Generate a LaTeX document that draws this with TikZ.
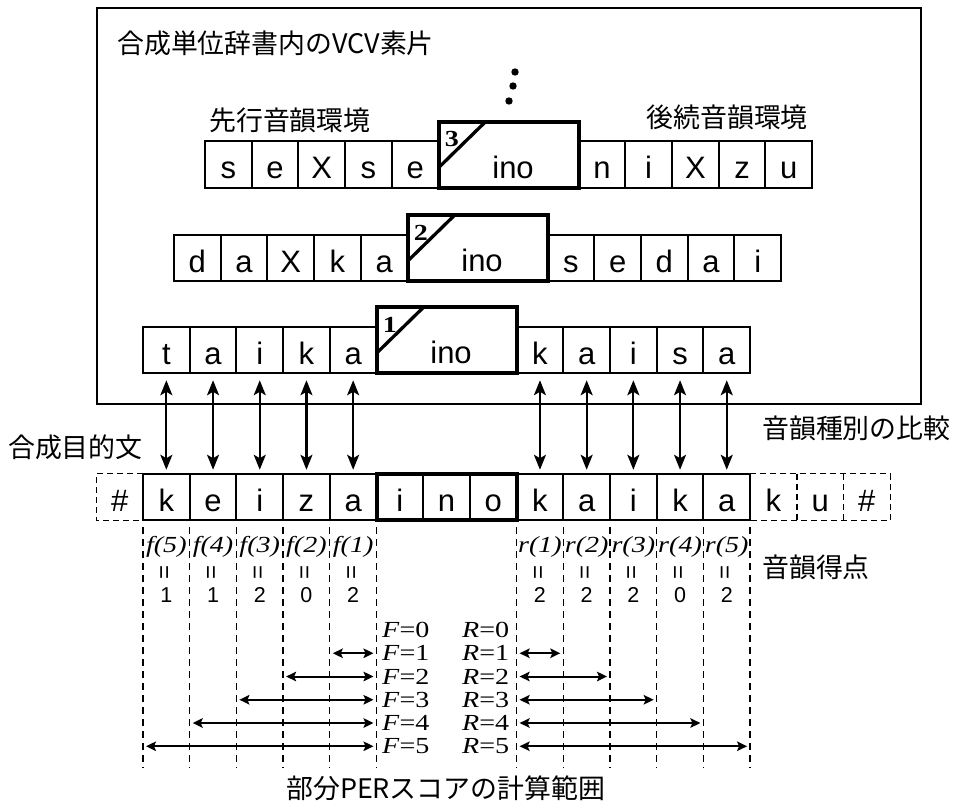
\documentclass[tikz,border=0pt]{standalone}
\usepackage{fontspec}
\setmainfont{Liberation Sans}
\newfontfamily\cjk{Noto Sans CJK JP}
\newfontfamily\serifst[FakeStretch=1.22]{Liberation Serif}
\usetikzlibrary{arrows.meta,fit}
\begin{document}
\begin{tikzpicture}[x=1pt,y=-1pt,
  cell/.style={draw, line width=2.1pt, minimum width=46.7pt, minimum height=46.5pt, inner sep=0pt, outer sep=0pt, text height=28pt, text depth=0pt, font=\fontsize{31}{36}\selectfont},
  dcell/.style={cell, draw=none},
  dline/.style={line width=1.4pt, dash pattern=on 6pt off 4pt},
  inobox/.style={draw, line width=4pt, minimum width=140.1pt, minimum height=66pt, inner sep=0pt, outer sep=0pt},
  inotext/.style={anchor=base, inner sep=0pt, font=\fontsize{31}{36}\selectfont},
  numlab/.style={inner sep=0pt, font=\serifst\bfseries\fontsize{23}{25}\selectfont},
  diag/.style={line width=3.3pt},
  cjklab/.style={inner sep=0pt, font=\cjk\fontsize{26.9}{30}\selectfont},
  varrow/.style={{Stealth[length=15pt,width=12pt,inset=3.5pt]}-{Stealth[length=15pt,width=12pt,inset=3.5pt]}, line width=2.2pt, shorten <=7pt, shorten >=4pt},
  harrow/.style={{Stealth[length=10pt,width=9.5pt,inset=2pt]}-{Stealth[length=10pt,width=9.5pt,inset=2pt]}, line width=2pt, shorten <=3pt, shorten >=3pt},
  guide/.style={line width=1.3pt, dash pattern=on 7pt off 5pt, shorten <=7pt},
  scorelab/.style={inner sep=0pt, font=\serifst\itshape\fontsize{23}{26}\selectfont},
  eqlab/.style={inner sep=0pt, rotate=90, font=\fontsize{24}{26}\selectfont},
  vallab/.style={inner sep=0pt, font=\fontsize{21.5}{24}\selectfont},
  flab/.style={anchor=west, inner sep=0pt, text height=15.2pt, text depth=0pt, font=\serifst\fontsize{23}{26}\selectfont},
]
\useasboundingbox (0,0) rectangle (955,806);

% dictionary frame
\node[draw, line width=2.6pt, minimum width=824pt, minimum height=396pt, inner sep=0pt] (dict) at (509,206) {};
\node[cjklab, anchor=west] (title) at (117,43) {合成単位辞書内のVCV素片};
\node[cjklab, anchor=west] (prev) at (209,120) {先行音韻環境};
\node[cjklab, anchor=east] (next) at (808,117) {後続音韻環境};

% dots
\fill (515,72) circle (3.7pt);
\fill (513,86) circle (3.7pt);
\fill (509,101) circle (3.7pt);

% VCV rows
\foreach \r/\L/\ys/\lw/\rw in {3/205/164.5/{s,e,X,s,e}/{n,i,X,z,u}, 2/174/258/{d,a,X,k,a}/{s,e,d,a,i}, 1/143/350/{t,a,i,k,a}/{k,a,i,s,a}}{
  \foreach \t [count=\i] in \lw {\node[cell] (r\r-\i) at ({\L+(\i-0.5)*46.7},\ys) {\t};}
  \foreach \t [count=\i from 6] in \rw {\node[cell] (r\r-\i) at ({\L+(\i+2.5)*46.7},\ys) {\t};}
  \node[inobox] (ino\r) at ({\L+6.5*46.7},{\ys-9.75}) {};
  \draw[diag] ([yshift=-46pt]ino\r.north west) -- ([xshift=47pt]ino\r.north west);
  \node[inotext] (inot\r) at ([xshift=4.5pt,yshift=9.5pt]ino\r.south) {ino};
  \node[numlab] (num\r) at ([xshift=13.5pt,yshift=-17.5pt]ino\r.north west) {\r};
}

% target sentence
\node[dcell] (tc-0) at ({143-0.5*46.7},497) {\#};
\foreach \t [count=\i from 14] in {k,u,\#} {\node[dcell] (tc-\i) at ({143+(\i-0.5)*46.7},497) {\t};}
\foreach \t [count=\i] in {k,e,i,z,a,i,n,o,k,a,i,k,a} {\node[cell] (tc-\i) at ({143+(\i-0.5)*46.7},497) {\t};}
\node[draw, line width=4pt, fit=(tc-6)(tc-8), inner sep=0pt] (tino) {};
\draw[dline] (tc-1.north west) -- (tc-0.north west) -- (tc-0.south west) -- (tc-1.south west);
\draw[dline] (tc-13.north east) -- (tc-16.north east) -- (tc-16.south east) -- (tc-13.south east);
\draw[dline] (tc-15.north west) -- (tc-15.south west);
\draw[dline] (tc-16.north west) -- (tc-16.south west);

\node[cjklab, anchor=west] (target) at (8,447) {合成目的文};
\node[cjklab, anchor=west] (cmp) at (762,428) {音韻種別の比較};
\node[cjklab, anchor=west] (score) at (762,567) {音韻得点};
\node[cjklab, anchor=west] (range) at (286,788) {部分PERスコアの計算範囲};

% comparison arrows
\foreach \a/\b in {1/1,2/2,3/3,4/4,5/5,6/9,7/10,8/11,9/12,10/13} {\draw[varrow] (r1-\a) -- (tc-\b);}

% guides
\foreach \i in {1,...,6,9,10,...,14} {\draw[guide] (tc-\i.south west) -- ++(0,248);}

% scores
\foreach \v [count=\i] in {1,1,2,0,2} {
  \pgfmathtruncatemacro\k{6-\i}
  \node[scorelab] (fs-\i) at ({143+(\i-0.5)*46.7},547) {f(\k)};
  \node[eqlab] (fe-\i) at ({143+(\i-0.5)*46.7},572) {=};
  \node[vallab] (fv-\i) at ({143+(\i-0.5)*46.7},595) {\v};
}
\foreach \v [count=\i] in {2,2,2,0,2} {
  \node[scorelab] (rs-\i) at ({143+(\i+7.5)*46.7},547) {r(\i)};
  \node[eqlab] (re-\i) at ({143+(\i+7.5)*46.7},572) {=};
  \node[vallab] (rv-\i) at ({143+(\i+7.5)*46.7},595) {\v};
}

% F / R ranges
\foreach \k in {0,...,5} {
  \node[flab] (F-\k) at (382,{630+23.25*\k}) {\textit{F}=\k};
  \node[flab] (R-\k) at (462,{630+23.25*\k}) {\textit{R}=\k};
}
\foreach \k in {1,...,5} {
  \pgfmathtruncatemacro\s{6-\k}
  \pgfmathtruncatemacro\e{8+\k}
  \draw[harrow] (tc-\s.west |- F-\k.west) -- (tc-6.west |- F-\k.west);
  \draw[harrow] (tc-9.west |- R-\k.west) -- (tc-\e.east |- R-\k.west);
}
\end{tikzpicture}
\end{document}
